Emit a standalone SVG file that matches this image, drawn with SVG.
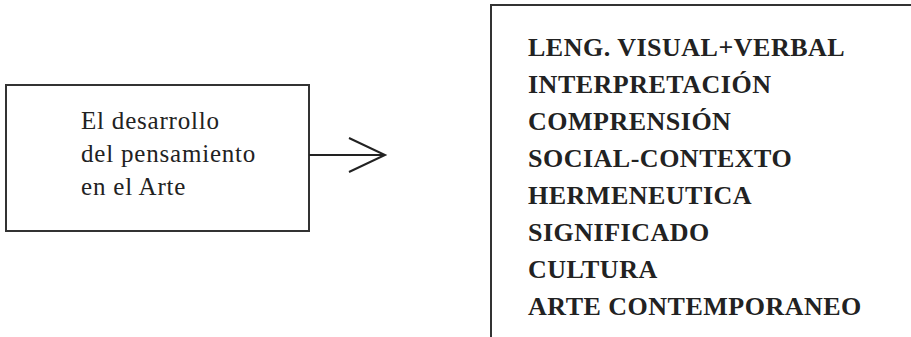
<svg xmlns="http://www.w3.org/2000/svg" width="911" height="337" viewBox="0 0 911 337">
<style>
.box{fill:none;stroke:#333;stroke-width:2}
.t{font-family:"Liberation Serif","Times New Roman",serif;font-size:25px;letter-spacing:0.8px;fill:#222}
.b{font-family:"Liberation Serif","Times New Roman",serif;font-size:26px;letter-spacing:0.5px;font-weight:bold;fill:#222}
.c{fill:none;stroke:#222;stroke-width:2}
</style>
<rect width="911" height="337" fill="#fff"/>
<g id="source">
<rect class="box" x="6" y="85" width="303" height="146"/>
<text class="t" x="81" y="129">El desarrollo</text>
<text class="t" x="81" y="162">del pensamiento</text>
<text class="t" x="81" y="195">en el Arte</text>
</g>
<g id="connectors">
<path class="c" d="M309 155H384"/>
<path class="c" stroke-width="1.3" d="M349 138L385 155L349 172"/>
</g>
<g id="target">
<path class="box" d="M491 337V5H911"/>
<text class="b" x="528" y="56">LENG. VISUAL+VERBAL</text>
<text class="b" x="528" y="93">INTERPRETACIÓN</text>
<text class="b" x="528" y="130">COMPRENSIÓN</text>
<text class="b" x="528" y="167">SOCIAL-CONTEXTO</text>
<text class="b" x="528" y="204">HERMENEUTICA</text>
<text class="b" x="528" y="241">SIGNIFICADO</text>
<text class="b" x="528" y="278">CULTURA</text>
<text class="b" x="528" y="315">ARTE CONTEMPORANEO</text>
</g>
</svg>
